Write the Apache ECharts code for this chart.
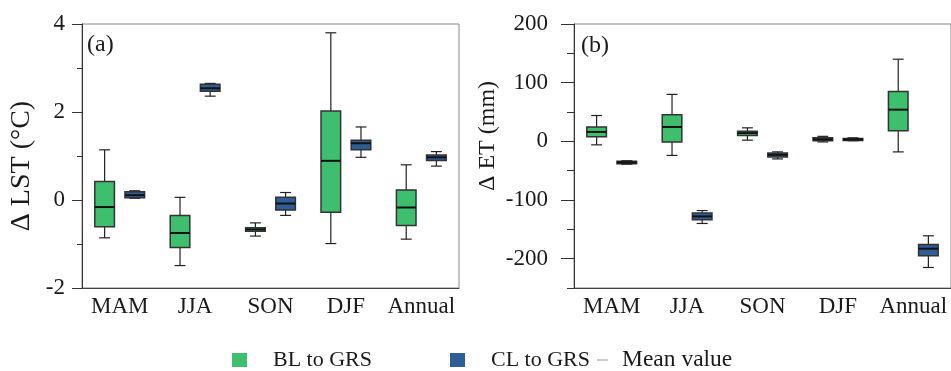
<!DOCTYPE html>
<html><head><meta charset="utf-8">
<script src="https://cdn.jsdelivr.net/npm/echarts@6/dist/echarts.min.js"></script>
<style>html,body{margin:0;padding:0;background:#fff}#c{width:951px;height:371px}</style>
</head><body><div id="c"></div>
<script>
// categories
const categories = ['MAM', 'JJA', 'SON', 'DJF', 'Annual'];
// box values: [min, Q1, median, Q3, max]
const lstBL = [
  [-0.86, -0.61, -0.16, 0.42, 1.14],
  [-1.49, -1.08, -0.75, -0.35, 0.06],
  [-0.82, -0.71, -0.67, -0.63, -0.52],
  [-0.99, -0.28, 0.89, 2.02, 3.80],
  [-0.89, -0.58, -0.17, 0.23, 0.80]
];
const lstCL = [
  [0.04, 0.05, 0.11, 0.19, 0.21],
  [2.36, 2.47, 2.54, 2.63, 2.65],
  [-0.35, -0.23, -0.08, 0.06, 0.17],
  [0.97, 1.14, 1.29, 1.36, 1.66],
  [0.77, 0.90, 0.97, 1.02, 1.10]
];
const etBL = [
  [-6, 8, 16, 24.5, 44],
  [-24, -1, 24.5, 45.5, 80],
  [2, 10, 14, 17, 23],
  [-1, 1, 3.5, 6, 8.5],
  [-18, 18, 54, 85, 140]
];
const etCL = [
  [-39, -38, -36, -34, -33],
  [-140, -133.5, -128, -122, -118],
  [-30, -26.5, -23, -20, -18],
  [1, 1.5, 3.3, 5, 6],
  [-215, -195, -183, -176, -161]
];
// tick labels
const lstTicks = [-2, 0, 2, 4];
const lstMinor = [-1, 1, 3];
const etTicks = [-200, -100, 0, 100, 200];
const etMinor = [-250, -150, -50, 50, 150];
const seriesNames = ['BL to GRS', 'CL to GRS', 'Mean value'];

const GREEN = '#3dbf6d', BLUE = '#2f5d97';
const FONT = 'Liberation Serif';

function toData(arr) { return arr.map((v, i) => [i].concat(v)); }

function makeRender(side, fill) {
  return function (params, api) {
    const ci = api.value(0);
    const band = api.size([1, 0])[0];
    const c = api.coord([ci, api.value(3)]);
    const x = c[0] + side * band * 0.2;
    const yv = k => api.coord([ci, api.value(k)])[1];
    const yMin = yv(1), yQ1 = yv(2), yMed = yv(3), yQ3 = yv(4), yMax = yv(5);
    const bw = band * 0.26, cw = band * 0.145;
    const ls = { stroke: '#222', lineWidth: 1.2 };
    return {
      type: 'group', children: [
        { type: 'line', shape: { x1: x, y1: yMax, x2: x, y2: yQ3 }, style: ls },
        { type: 'line', shape: { x1: x, y1: yQ1, x2: x, y2: yMin }, style: ls },
        { type: 'line', shape: { x1: x - cw / 2, y1: yMax, x2: x + cw / 2, y2: yMax }, style: ls },
        { type: 'line', shape: { x1: x - cw / 2, y1: yMin, x2: x + cw / 2, y2: yMin }, style: ls },
        { type: 'rect', shape: { x: x - bw / 2, y: yQ3, width: bw, height: Math.max(yQ1 - yQ3, 0.5) }, style: { fill: fill, stroke: '#333', lineWidth: 1.5 } },
        { type: 'line', shape: { x1: x - bw / 2, y1: yMed, x2: x + bw / 2, y2: yMed }, style: { stroke: '#111', lineWidth: 2 } }
      ]
    };
  };
}

function boxSeries(name, arr, side, color, xi, yi) {
  return {
    type: 'custom', name: name, xAxisIndex: xi, yAxisIndex: yi,
    itemStyle: { color: color },
    encode: { x: 0, y: [1, 2, 3, 4, 5] },
    data: toData(arr),
    renderItem: makeRender(side, color)
  };
}

const labelStyle = { fontFamily: FONT, fontSize: 23, color: '#1a1a1a' };
const xAxisBase = (gi) => ({
  type: 'category', gridIndex: gi, data: categories, position: 'bottom',
  axisLine: { onZero: false, lineStyle: { color: '#444', width: 1 } },
  axisTick: { show: false },
  axisLabel: Object.assign({ margin: 7, interval: 0 }, labelStyle),
  splitLine: { show: false }
});

const chart = echarts.init(document.getElementById('c'), null, { renderer: 'canvas' });
chart.setOption({
  animation: false,
  grid: [
    { left: 82, top: 24, width: 377, height: 264, show: true, borderColor: '#888', borderWidth: 1 },
    { left: 574, top: 24, width: 378, height: 264, show: true, borderColor: '#888', borderWidth: 1 }
  ],
  xAxis: [xAxisBase(0), xAxisBase(1)],
  yAxis: [
    {
      type: 'value', gridIndex: 0, min: -2, max: 4, position: 'left',
      axisLine: { show: true, onZero: false, lineStyle: { color: '#333' } },
      axisTick: { show: true, length: 10, customValues: lstTicks, lineStyle: { color: '#333' } },
      axisLabel: Object.assign({ margin: 17, customValues: lstTicks }, labelStyle),
      splitLine: { show: false }
    },
    {
      type: 'value', gridIndex: 0, min: -2, max: 4, position: 'left',
      axisLine: { show: false, onZero: false },
      axisTick: { show: true, length: 5, customValues: lstMinor, lineStyle: { color: '#333' } },
      axisLabel: { show: false }, splitLine: { show: false }
    },
    {
      type: 'value', gridIndex: 1, min: -250, max: 200, position: 'left',
      axisLine: { show: true, onZero: false, lineStyle: { color: '#333' } },
      axisTick: { show: true, length: 13, customValues: etTicks, lineStyle: { color: '#333' } },
      axisLabel: Object.assign({ margin: 26, customValues: etTicks }, labelStyle),
      splitLine: { show: false }
    },
    {
      type: 'value', gridIndex: 1, min: -250, max: 200, position: 'left',
      axisLine: { show: false, onZero: false },
      axisTick: { show: true, length: 7, customValues: etMinor, lineStyle: { color: '#333' } },
      axisLabel: { show: false }, splitLine: { show: false }
    }
  ],
  legend: [
    {
      data: [{ name: seriesNames[0], icon: 'rect' }], left: 232, top: 349, padding: 0,
      itemWidth: 15, itemHeight: 14, selectedMode: false,
      textStyle: { fontFamily: FONT, fontSize: 22, color: '#1a1a1a', padding: [0, 0, 0, 21] }
    },
    {
      data: [{ name: seriesNames[1], icon: 'rect' }], left: 450, top: 349, padding: 0,
      itemWidth: 15, itemHeight: 14, selectedMode: false,
      textStyle: { fontFamily: FONT, fontSize: 22, color: '#1a1a1a', padding: [0, 0, 0, 21] }
    },
    {
      data: [{ name: seriesNames[2], icon: 'rect', itemStyle: { color: '#999' } }], left: 597, top: 348, padding: 0,
      itemWidth: 11, itemHeight: 1, selectedMode: false,
      textStyle: { fontFamily: FONT, fontSize: 23.5, color: '#1a1a1a', padding: [0, 0, 0, 9] }
    }
  ],
  graphic: [
    { type: 'text', x: 22, y: 166, rotation: Math.PI / 2, style: { text: 'Δ LST (°C)', font: '28px "Liberation Serif"', fill: '#1a1a1a', textAlign: 'center', textVerticalAlign: 'middle' } },
    { type: 'text', x: 488, y: 136, rotation: Math.PI / 2, style: { text: 'Δ ET (mm)', font: '24px "Liberation Serif"', fill: '#1a1a1a', textAlign: 'center', textVerticalAlign: 'middle' } },
    { type: 'text', x: 87, y: 45, style: { text: '(a)', font: '24px "Liberation Serif"', fill: '#1a1a1a', textAlign: 'left', textVerticalAlign: 'middle' } },
    { type: 'text', x: 581, y: 46, style: { text: '(b)', font: '24px "Liberation Serif"', fill: '#1a1a1a', textAlign: 'left', textVerticalAlign: 'middle' } }
  ],
  series: [
    boxSeries(seriesNames[0], lstBL, -1, GREEN, 0, 0),
    boxSeries(seriesNames[1], lstCL, 1, BLUE, 0, 0),
    boxSeries(seriesNames[0], etBL, -1, GREEN, 1, 2),
    boxSeries(seriesNames[1], etCL, 1, BLUE, 1, 2),
    { type: 'line', name: seriesNames[2], data: [], xAxisIndex: 0, yAxisIndex: 0, itemStyle: { color: '#999' } }
  ]
});
</script>
</body></html>
